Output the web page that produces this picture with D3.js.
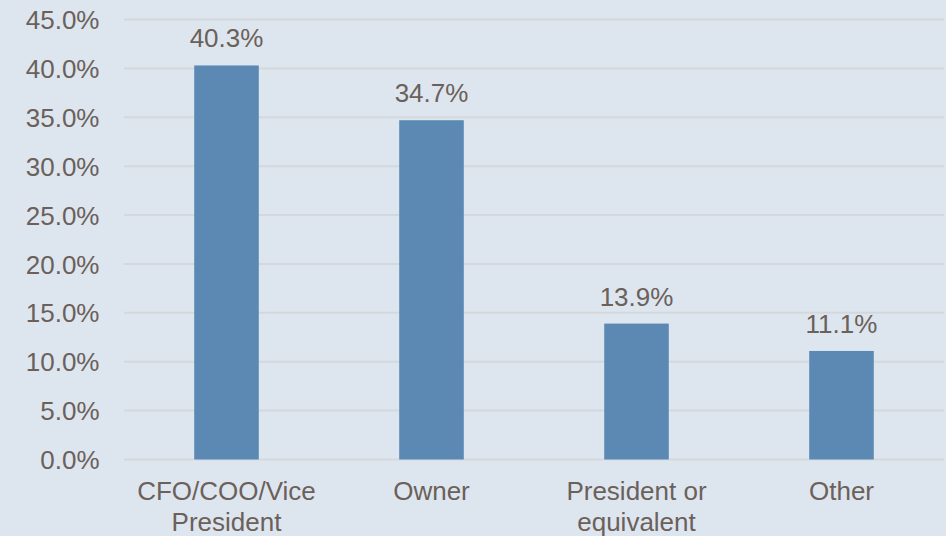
<!DOCTYPE html>
<html>
<head>
<meta charset="utf-8">
<script src="https://cdn.jsdelivr.net/npm/d3@7"></script>
<style>
  html, body { margin: 0; padding: 0; background: #dde6ef; }
  svg { display: block; }
  text { font-family: "Liberation Sans", Arial, sans-serif; fill: #6b605a; }
</style>
</head>
<body>
<svg id="chart" width="946" height="536"></svg>
<script>
// Share of respondents by job title
const categories = [["CFO/COO/Vice", "President"], ["Owner"], ["President or", "equivalent"], ["Other"]];
const values = [40.3, 34.7, 13.9, 11.1];
const yTicks = [0, 5, 10, 15, 20, 25, 30, 35, 40, 45];

const W = 946, H = 536;
const margin = { left: 124, right: 2, top: 19.5, bottom: 76.5 };
const fontSize = 26;
const svg = d3.select("#chart");

const x = d3.scaleBand()
  .domain(d3.range(categories.length))
  .range([margin.left, W - margin.right])
  .paddingInner(0.685)
  .paddingOuter(0.3425);

const y = d3.scaleLinear()
  .domain([0, 45])
  .range([H - margin.bottom, margin.top]);

// horizontal grid lines
svg.append("g")
  .selectAll("line")
  .data(yTicks)
  .join("line")
  .attr("x1", margin.left)
  .attr("x2", W - margin.right)
  .attr("y1", d => y(d))
  .attr("y2", d => y(d))
  .attr("stroke", "#d4d8dc")
  .attr("stroke-width", 2);

// y axis labels
const yAxis = d3.axisLeft(y).tickValues(yTicks).tickFormat(d => d.toFixed(1) + "%").tickSize(0).tickPadding(0);
const ya = svg.append("g").attr("transform", `translate(${99.5},0)`).call(yAxis);
ya.select(".domain").remove();
ya.selectAll("text")
  .attr("font-size", fontSize)
  .attr("font-family", null)
  .attr("fill", null)
  .attr("dy", "0.35em");

// bars
svg.append("g")
  .selectAll("rect")
  .data(values)
  .join("rect")
  .attr("x", (d, i) => x(i))
  .attr("width", x.bandwidth())
  .attr("y", d => y(d))
  .attr("height", d => y(0) - y(d))
  .attr("fill", "#5b89b4");

// value labels
svg.append("g")
  .selectAll("text")
  .data(values)
  .join("text")
  .attr("x", (d, i) => x(i) + x.bandwidth() / 2)
  .attr("y", d => y(d) - 18)
  .attr("text-anchor", "middle")
  .attr("font-size", fontSize)
  .text(d => d.toFixed(1) + "%");

// category labels
const cat = svg.append("g")
  .selectAll("text")
  .data(categories)
  .join("text")
  .attr("x", (d, i) => x(i) + x.bandwidth() / 2)
  .attr("y", y(0) + 40)
  .attr("text-anchor", "middle")
  .attr("font-size", fontSize);
cat.selectAll("tspan")
  .data(d => d)
  .join("tspan")
  .attr("x", function () { return d3.select(this.parentNode).attr("x"); })
  .attr("dy", (d, j) => j === 0 ? 0 : 31)
  .text(d => d);
</script>
</body>
</html>
